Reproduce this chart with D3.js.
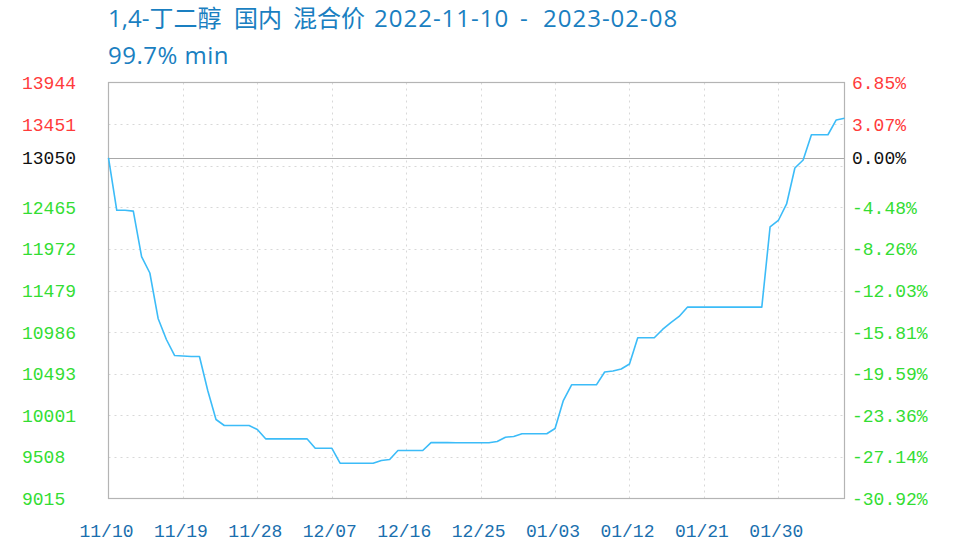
<!DOCTYPE html>
<html>
<head>
<meta charset="utf-8">
<script src="https://cdn.jsdelivr.net/npm/d3@7"></script>
<style>
  html, body { margin: 0; padding: 0; background: #fff; }
  svg { display: block; }
</style>
</head>
<body>
<svg id="chart" width="959" height="551"></svg>
<script>
// ---- data ----
const titleParts = ["1,4-丁二醇", "国内", "混合价", "2022-11-10", "-", "2023-02-08"];
const titleLine2 = "99.7% min";
const startDate = "2022-11-10";
const basePrice = 13050;
// daily prices from 2022-11-10
const prices = [
  13050, 12430, 12430, 12420, 11882, 11687, 11148, 10899, 10709, 10703,
  10698, 10698, 10295, 9951, 9880, 9880, 9880, 9880, 9833, 9722,
  9722, 9722, 9722, 9722, 9722, 9611, 9611, 9611, 9433, 9433,
  9433, 9433, 9433, 9465, 9477, 9584, 9584, 9584, 9584, 9677,
  9677, 9677, 9675, 9675, 9675, 9675, 9675, 9690, 9741, 9750,
  9782, 9782, 9782, 9782, 9844, 10176, 10362, 10362, 10362, 10362,
  10514, 10526, 10549, 10609, 10919, 10919, 10919, 11018, 11100, 11172,
  11282, 11282, 11282, 11282, 11282, 11282, 11282, 11282, 11282, 11282,
  12232, 12309, 12505, 12931, 13026, 13325, 13325, 13325, 13500, 13521
];
const yMin = 9015, yMax = 13944;
const yTickValues = [9015, 9508, 10001, 10493, 10986, 11479, 11972, 12465, 12958, 13451, 13944];
const yTickLabels = ["9015", "9508", "10001", "10493", "10986", "11479", "11972", "12465", "", "13451", "13944"];
const yRightLabels = ["-30.92%", "-27.14%", "-23.36%", "-19.59%", "-15.81%", "-12.03%", "-8.26%", "-4.48%", "", "3.07%", "6.85%"];
const baseLabelLeft = "13050", baseLabelRight = "0.00%";
const xTickLabels = ["11/10", "11/19", "11/28", "12/07", "12/16", "12/25", "01/03", "01/12", "01/21", "01/30"];
const xTickStepDays = 9;

// ---- layout ----
const L = 108.5, R = 844.5, T = 82.5, B = 498.5;
const svg = d3.select("#chart");
const parse = d3.timeParse("%Y-%m-%d");
const d0 = parse(startDate);
const dates = prices.map((_, i) => d3.timeDay.offset(d0, i));
const data = prices.map((v, i) => ({ date: dates[i], value: v }));

const x = d3.scaleTime().domain([dates[0], dates[dates.length - 1]]).range([L, R]);
const y = d3.scaleLinear().domain([yMin, yMax]).range([B, T]);

const tickFont = "'Liberation Mono', 'DejaVu Sans Mono', monospace";
const green = "#33dd33", red = "#ff3b3b";

// grid (dotted)
const grid = svg.append("g");
yTickValues.forEach(v => {
  if (v === yMin || v === yMax) return;
  grid.append("line")
    .attr("x1", L).attr("x2", R)
    .attr("y1", Math.round(y(v)) + 0.5).attr("y2", Math.round(y(v)) + 0.5)
    .attr("stroke", "#d8d8d8").attr("stroke-dasharray", "2,4");
});
const xTickDates = xTickLabels.map((_, i) => d3.timeDay.offset(d0, i * xTickStepDays));
xTickDates.forEach((d, i) => {
  if (i === 0) return;
  grid.append("line")
    .attr("x1", Math.round(x(d)) + 0.5).attr("x2", Math.round(x(d)) + 0.5)
    .attr("y1", T).attr("y2", B)
    .attr("stroke", "#d8d8d8").attr("stroke-dasharray", "2,4");
});

// base line
svg.append("line")
  .attr("x1", L).attr("x2", R)
  .attr("y1", Math.round(y(basePrice)) + 0.5).attr("y2", Math.round(y(basePrice)) + 0.5)
  .attr("stroke", "#a8a8a8").attr("stroke-width", 1.2);

// frame
svg.append("rect")
  .attr("x", L).attr("y", T).attr("width", R - L).attr("height", B - T)
  .attr("fill", "none").attr("stroke", "#b4b4b4").attr("stroke-width", 1.2);

// line
const line = d3.line().x(d => x(d.date)).y(d => y(d.value));
svg.append("path").datum(data)
  .attr("d", line)
  .attr("fill", "none")
  .attr("stroke", "#3cbcf8")
  .attr("stroke-width", 1.6)
  .attr("stroke-linejoin", "round");

// left labels
const leftG = svg.append("g").attr("font-family", tickFont).attr("font-size", 18);
yTickValues.forEach((v, i) => {
  if (!yTickLabels[i]) return;
  leftG.append("text")
    .attr("x", 22).attr("y", y(v)).attr("dy", "0.36em")
    .attr("fill", v > basePrice ? red : green)
    .text(yTickLabels[i]);
});
leftG.append("text")
  .attr("x", 22).attr("y", y(basePrice)).attr("dy", "0.36em")
  .attr("fill", "#111").text(baseLabelLeft);

// right labels
const rightG = svg.append("g").attr("font-family", tickFont).attr("font-size", 18);
yTickValues.forEach((v, i) => {
  if (!yRightLabels[i]) return;
  rightG.append("text")
    .attr("x", 852).attr("y", y(v)).attr("dy", "0.36em")
    .attr("fill", v > basePrice ? red : green)
    .text(yRightLabels[i]);
});
rightG.append("text")
  .attr("x", 852).attr("y", y(basePrice)).attr("dy", "0.36em")
  .attr("fill", "#111").text(baseLabelRight);

// x labels
const xG = svg.append("g").attr("font-family", tickFont).attr("font-size", 18).attr("fill", "#1a6fae");
xTickDates.forEach((d, i) => {
  xG.append("text")
    .attr("x", x(d) - 2).attr("y", 537)
    .attr("text-anchor", "middle")
    .text(xTickLabels[i]);
});

// title
const titleFont = "'Open Sans', 'Noto Sans CJK SC', sans-serif";
const titleX = [108, 234, 293, 374, 520, 543];
const t1 = svg.append("text")
  .attr("y", 27)
  .attr("font-family", titleFont).attr("font-size", 24)
  .attr("fill", "#1a7fc1");
titleParts.forEach((p, i) => {
  t1.append("tspan").attr("x", titleX[i])
    .attr("letter-spacing", i >= 3 ? 1 : 0)
    .text(p);
});
svg.append("text")
  .attr("x", 108).attr("y", 64)
  .attr("font-family", titleFont).attr("font-size", 24)
  .attr("letter-spacing", 0.5)
  .attr("fill", "#1a7fc1").text(titleLine2);
</script>
</body>
</html>
